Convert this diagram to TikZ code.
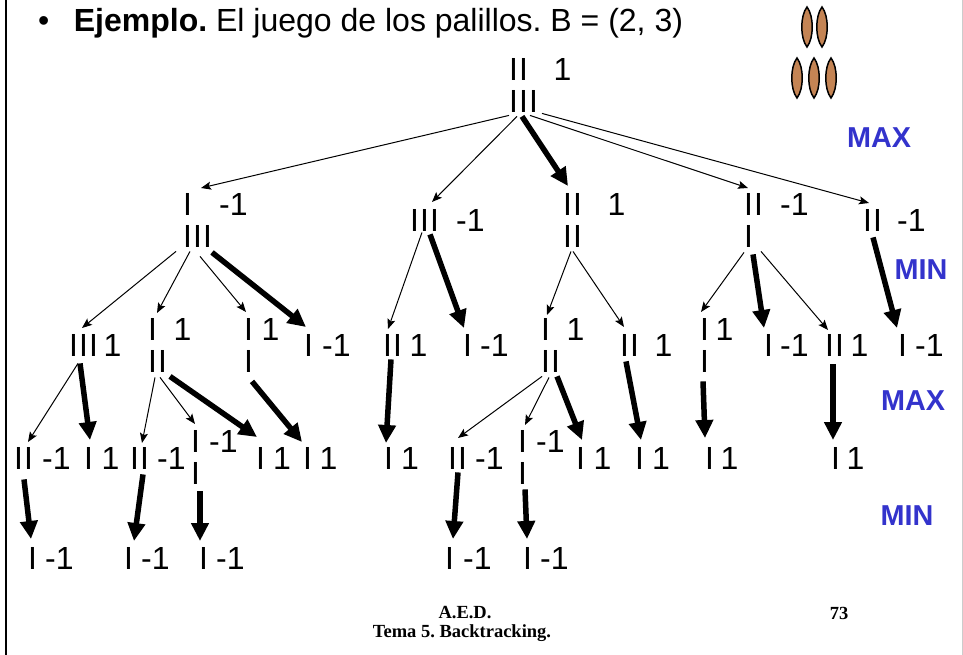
\documentclass[tikz,border=0pt]{standalone}
\usepackage{fontspec}
\setmainfont{Liberation Sans}
\newfontfamily\footfont{Liberation Serif}
\newfontfamily\stickfont{Liberation Sans}[LetterSpace=3.4]
\usetikzlibrary{arrows.meta}
\definecolor{minmaxblue}{RGB}{51,51,204}
\definecolor{palillobrown}{RGB}{196,132,84}
\tikzset{
  palillo/.style={draw=black,line width=1.5pt,fill=palillobrown},
  treeval/.style={font=\normalfont\fontsize{32}{32}\selectfont},
  levellabel/.style={anchor=center,inner sep=0pt,text=minmaxblue,font=\fontsize{28.8}{29}\selectfont\bfseries},
  footlabel/.style={anchor=center,inner sep=0pt,font=\fontsize{18.5}{18.5}\selectfont\footfont\bfseries},
}
\frenchspacing
\begin{document}
\begin{tikzpicture}[x=1pt,y=-1pt]
        \useasboundingbox (0,0) rectangle (963,655);
        \draw[line width=2.5pt] (6,0) -- (6,655);
        \draw[line width=1pt,gray!40] (962.5,0) -- (962.5,655);
        \node[anchor=base west,inner sep=0pt,font=\fontsize{32}{32}\selectfont] (title) at (38,32)
              {\textbullet\hspace{24.5pt}\textbf{Ejemplo.} El juego de los palillos. B = (2, 3)};
        \foreach \x/\y in {807/27,822/27,797/78,814/78,831/78}
              \draw[palillo] (\x,\y-20) .. controls (\x-7,\y-11) and (\x-7,\y+11) .. (\x,\y+20)
                             .. controls (\x+7,\y+11) and (\x+7,\y-11) .. cycle;
        \begin{scope}[every node/.style={anchor=north west,inner sep=0pt,align=left,font=\stickfont\fontsize{32}{32}\selectfont}]
        \node (root) at (509,58) {II\\III};
        \node[treeval] (rootval) at (553.5,58) {1};
        \node (a) at (183,193) {I\\III};
        \node[treeval] (aval) at (219,193) {-1};
        \node (b) at (410,209) {III};
        \node[treeval] (bval) at (456,209) {-1};
        \node (c) at (563,193) {II\\II};
        \node[treeval] (cval) at (607.5,193) {1};
        \node (d) at (744,193) {II\\I};
        \node[treeval] (dval) at (780,193) {-1};
        \node (e) at (863,209) {II};
        \node[treeval] (eval) at (897,209) {-1};
        \node (aa) at (69,334) {III};
        \node[treeval] (aaval) at (103.5,334) {1};
        \node (ab) at (148,318) {I\\II};
        \node[treeval] (abval) at (173.5,318) {1};
        \node (ac) at (244,318) {I\\I};
        \node[treeval] (acval) at (261.5,318) {1};
        \node (ad) at (304,334) {I};
        \node[treeval] (adval) at (322,334) {-1};
        \node (ba) at (383,334) {II};
        \node[treeval] (baval) at (409.5,334) {1};
        \node (bb) at (463,334) {I};
        \node[treeval] (bbval) at (480,334) {-1};
        \node (ca) at (541,318) {I\\II};
        \node[treeval] (caval) at (566.5,318) {1};
        \node (cb) at (620,334) {II};
        \node[treeval] (cbval) at (654.5,334) {1};
        \node (da) at (700,318) {I\\I};
        \node[treeval] (daval) at (715.5,318) {1};
        \node (db) at (764,334) {I};
        \node[treeval] (dbval) at (780,334) {-1};
        \node (dc) at (825,334) {II};
        \node[treeval] (dcval) at (850.5,334) {1};
        \node (ea) at (898,334) {I};
        \node[treeval] (eaval) at (915,334) {-1};
        \node (aaa) at (14,447) {II};
        \node[treeval] (aaaval) at (42,447) {-1};
        \node (aab) at (84,447) {I};
        \node[treeval] (aabval) at (101.5,447) {1};
        \node (aba) at (130,447) {II};
        \node[treeval] (abaval) at (157,447) {-1};
        \node (abb) at (191,430) {I\\I};
        \node[treeval] (abbval) at (209,430) {-1};
        \node (abc) at (256,447) {I};
        \node[treeval] (abcval) at (273,447) {1};
        \node (aca) at (303,447) {I};
        \node[treeval] (acaval) at (319.5,447) {1};
        \node (baa) at (384,447) {I};
        \node[treeval] (baaval) at (401,447) {1};
        \node (caa) at (448,447) {II};
        \node[treeval] (caaval) at (475,447) {-1};
        \node (cab) at (518,430) {I\\I};
        \node[treeval] (cabval) at (536,430) {-1};
        \node (cac) at (576,447) {I};
        \node[treeval] (cacval) at (593.5,447) {1};
        \node (cba) at (635,447) {I};
        \node[treeval] (cbaval) at (652,447) {1};
        \node (daa) at (705,447) {I};
        \node[treeval] (daaval) at (720.5,447) {1};
        \node (dca) at (831,447) {I};
        \node[treeval] (dcaval) at (846.5,447) {1};
        \node (aaaa) at (28,547) {I};
        \node[treeval] (aaaaval) at (45,547) {-1};
        \node (abaa) at (124,547) {I};
        \node[treeval] (abaaval) at (141,547) {-1};
        \node (abba) at (199,547) {I};
        \node[treeval] (abbaval) at (216,547) {-1};
        \node (caaa) at (445,547) {I};
        \node[treeval] (caaaval) at (463,547) {-1};
        \node (caba) at (523,547) {I};
        \node[treeval] (cabaval) at (540,547) {-1};
        \end{scope}
        \begin{scope}[every edge/.style={draw=black,line width=1pt,-{Stealth[length=10pt,width=8pt,inset=2pt]}}]
        \path ([shift={(0,3)}]root.south west) edge ([shift={(18,-5)}]a.north west)
              ([shift={(8,4)}]root.south west) edge ([shift={(22,-7)}]b.north west)
              ([shift={(21,3)}]root.south west) edge ([shift={(4,-5)}]d.north west)
              ([shift={(33,1)}]root.south west) edge ([shift={(6,-6)}]e.north west)
              ([shift={(-7,4)}]a.south west) edge ([shift={(13,-6)}]aa.north west)
              ([shift={(7,4)}]a.south west) edge ([shift={(9,-5)}]ab.north west)
              ([shift={(17,9)}]a.south west) edge ([shift={(2,-6)}]ac.north west)
              ([shift={(9,7)}]aa.south west) edge ([shift={(14,-5)}]aaa.north west)
              ([shift={(7,5)}]ab.south west) edge ([shift={(12,-4)}]aba.north west)
              ([shift={(12,5)}]ab.south west) edge ([shift={(4,-6)}]abb.north west)
              ([shift={(12,1)}]b.south west) edge ([shift={(5,-5)}]ba.north west)
              ([shift={(8,4)}]c.south west) edge ([shift={(6,-3)}]ca.north west)
              ([shift={(10,4)}]c.south west) edge ([shift={(4,-7)}]cb.north west)
              ([shift={(1,4)}]ca.south west) edge ([shift={(10,-9)}]caa.north west)
              ([shift={(8,5)}]ca.south west) edge ([shift={(7,-5)}]cab.north west)
              ([shift={(0,5)}]d.south west) edge ([shift={(1,-6)}]da.north west)
              ([shift={(17,4)}]d.south west) edge ([shift={(3,-4)}]dc.north west);
        \end{scope}
        \begin{scope}[every edge/.style={draw=black,line width=5.5pt,-{Triangle[length=18pt,width=17pt]}}]
        \path ([shift={(13,4)}]root.south west) edge ([shift={(5,-7)}]c.north west)
              ([shift={(29,5)}]a.south west) edge ([shift={(2,-7)}]ad.north west)
              ([shift={(11,7)}]aa.south west) edge ([shift={(6,-7)}]aab.north west)
              ([shift={(22,4)}]ab.south west) edge ([shift={(1,-10)}]abc.north west)
              ([shift={(8,9)}]ac.south west) edge ([shift={(-1,-5)}]aca.north west)
              ([shift={(10,10)}]aaa.south west) edge ([shift={(3,-8)}]aaaa.north west)
              ([shift={(13,5)}]aba.south west) edge ([shift={(10,-6)}]abaa.north west)
              ([shift={(9,7)}]abb.south west) edge ([shift={(1,-6)}]abba.north west)
              ([shift={(20,3)}]b.south west) edge ([shift={(1,-6)}]bb.north west)
              ([shift={(8,3)}]ba.south west) edge ([shift={(2,-4)}]baa.north west)
              ([shift={(16,4)}]ca.south west) edge ([shift={(6,-7)}]cac.north west)
              ([shift={(6,5)}]cb.south west) edge ([shift={(6,-7)}]cba.north west)
              ([shift={(10,3)}]caa.south west) edge ([shift={(8,-8)}]caaa.north west)
              ([shift={(7,5)}]cab.south west) edge ([shift={(4,-8)}]caba.north west)
              ([shift={(9,7)}]d.south west) edge ([shift={(0,-6)}]db.north west)
              ([shift={(3,9)}]da.south west) edge ([shift={(0,-9)}]daa.north west)
              ([shift={(8,8)}]dc.south west) edge ([shift={(2,-7)}]dca.north west)
              ([shift={(10,6)}]e.south west) edge ([shift={(-1,-6)}]ea.north west);
        \end{scope}
        \node[levellabel] (max1) at (879,138) {MAX};
        \node[levellabel] (min1) at (921,270) {MIN};
        \node[levellabel] (max2) at (913,401) {MAX};
        \node[levellabel] (min2) at (907,516) {MIN};
        \node[footlabel] (aed) at (465,613) {A.E.D.};
        \node[footlabel] (tema) at (462,633) {Tema 5. Backtracking.};
        \node[footlabel] (pagenum) at (839,613) {73};
\end{tikzpicture}
\end{document}
